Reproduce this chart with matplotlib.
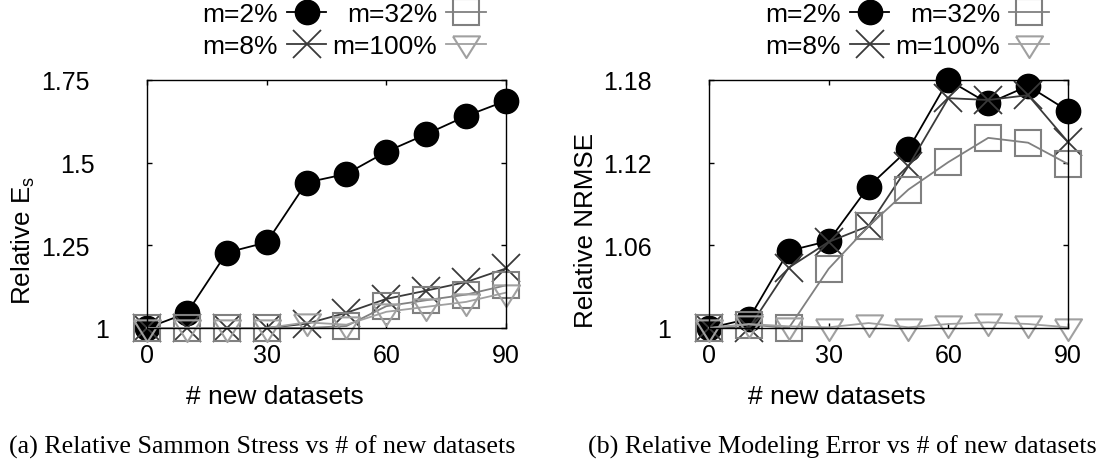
import matplotlib
matplotlib.use("Agg")
import matplotlib.pyplot as plt
from matplotlib.transforms import ScaledTranslation

plt.rcParams['font.family'] = ['Liberation Sans', 'DejaVu Sans']
plt.rcParams['mathtext.fontset'] = 'custom'
plt.rcParams['mathtext.rm'] = 'Liberation Sans'
plt.rcParams['mathtext.it'] = 'Liberation Sans'
plt.rcParams['mathtext.default'] = 'regular'

new_datasets = [0, 10, 20, 30, 40, 50, 60, 70, 80, 90]
series_labels = ["m=2%", "m=8%", "m=32%", "m=100%"]

# (a) relative Sammon stress
stress_m2 = [1.0, 1.045, 1.228, 1.259, 1.44, 1.466, 1.533, 1.586, 1.641, 1.687]
stress_m8 = [1.0, 1.0, 1.0, 1.0, 1.013, 1.046, 1.088, 1.113, 1.139, 1.18]
stress_m32 = [1.0, 1.0, 1.0, 1.0, 1.0, 1.006, 1.066, 1.084, 1.101, 1.129]
stress_m100 = [1.0, 1.0, 1.0, 1.0, 1.017, 1.01, 1.049, 1.064, 1.079, 1.107]

# (b) relative NRMSE
nrmse_m2 = [1.0, 1.0066, 1.056, 1.0632, 1.1026, 1.1297, 1.18, 1.163, 1.1757, 1.1576]
nrmse_m8 = [1.0, 1.0, 1.0438, 1.0625, 1.074, 1.1175, 1.1668, 1.1655, 1.169, 1.135]
nrmse_m32 = [1.0, 1.0025, 1.0, 1.043, 1.074, 1.1005, 1.1204, 1.138, 1.1345, 1.119]
nrmse_m100 = [1.0, 1.0029, 1.0012, 1.0005, 1.0036, 1.0005, 1.0029, 1.0041, 1.0029, 1.0005]

stress_ticks = [1, 1.25, 1.5, 1.75]
stress_tick_labels = ["1", "1.25", "1.5", "1.75"]
nrmse_ticks = [1, 1.06, 1.12, 1.18]
nrmse_tick_labels = ["1", "1.06", "1.12", "1.18"]
x_ticks = [0, 30, 60, 90]

# gnuplot-like down triangle, wider than tall
tri = [(-1, 0.6), (1, 0.6), (0, -1), (-1, 0.6)]
styles = [
    dict(color='black', marker='o', ms=17.5, mfc='black', mec='black', mew=1.0),
    dict(color='#3a3a3a', marker='x', ms=19.5, mew=1.3),
    dict(color='#808080', marker='s', ms=18.5, mfc='none', mew=1.5),
    dict(color='#a0a0a0', marker=tri, ms=19.5, mfc='none', mew=1.5),
]

# shorter tick labels sit a little closer to the axis (points)
label_shift = {"1": 14.4, "1.5": 3.6}

fig = plt.figure(figsize=(11.11, 4.64), dpi=100)
W, H = 1111, 464


def panel(left_px, data, ticks, tick_labels, ylabel, ylabel_y, legend_x, caption, caption_x, skip=None):
    ax = fig.add_axes([left_px / W, 1 - 329 / H, 359 / W, 248 / H])
    for i, (vals, lab, st) in enumerate(zip(data, series_labels, styles)):
        kw = dict(st)
        if skip is not None and skip[0] == i:
            kw['markevery'] = [k for k in range(len(vals)) if k != skip[1]]
        ax.plot(new_datasets, vals, lw=1.3, label=lab, clip_on=False, **kw)
    ax.set_xlim(0, 90)
    ax.set_ylim(ticks[0], ticks[-1])
    ax.set_xticks(x_ticks)
    ax.set_yticks(ticks)
    ax.set_yticklabels(tick_labels)
    ax.tick_params(direction='in', length=3.6, width=1.0, top=True, right=True,
                   labelsize=18, colors='black')
    ax.tick_params(axis='y', pad=41.5)
    ax.tick_params(axis='x', pad=11)
    for sp in ax.spines.values():
        sp.set_linewidth(1.0)
    ax.set_xlabel('# new datasets', fontsize=19, va='center')
    ax.xaxis.set_label_coords(0.357, -0.274)
    ax.set_ylabel(ylabel, fontsize=18.7, va='center', ha='center')
    ax.yaxis.set_label_coords(-0.343, ylabel_y)
    ax.legend(loc='center', bbox_to_anchor=(legend_x / W, 1 - 31 / H),
              bbox_transform=fig.transFigure, ncol=2, markerfirst=False,
              frameon=False, fontsize=19, handlelength=1.48, handletextpad=0.35,
              columnspacing=0.23, labelspacing=0.3, borderpad=0, borderaxespad=0,
              numpoints=1)
    fig.text(caption_x / W, 1 - 447 / H, caption, ha='center', va='center',
             family=['Liberation Serif', 'DejaVu Serif'], fontsize=18.7)
    return ax


ax_a = panel(147, [stress_m2, stress_m8, stress_m32, stress_m100],
             stress_ticks, stress_tick_labels, 'Relative E$_s$', 0.359, 344,
             '(a) Relative Sammon Stress vs # of new datasets', 262, skip=(2, 4))
ax_b = panel(709, [nrmse_m2, nrmse_m8, nrmse_m32, nrmse_m100],
             nrmse_ticks, nrmse_tick_labels, 'Relative NRMSE', 0.398, 907,
             '(b) Relative Modeling Error vs # of new datasets', 842)

fig.canvas.draw()
for ax in (ax_a, ax_b):
    for tick in ax.yaxis.get_major_ticks():
        lab = tick.label1
        dx = label_shift.get(lab.get_text(), 0)
        if dx:
            lab.set_transform(lab.get_transform() + ScaledTranslation(dx / 72, 0, fig.dpi_scale_trans))

fig.savefig('out.png', dpi=100)
